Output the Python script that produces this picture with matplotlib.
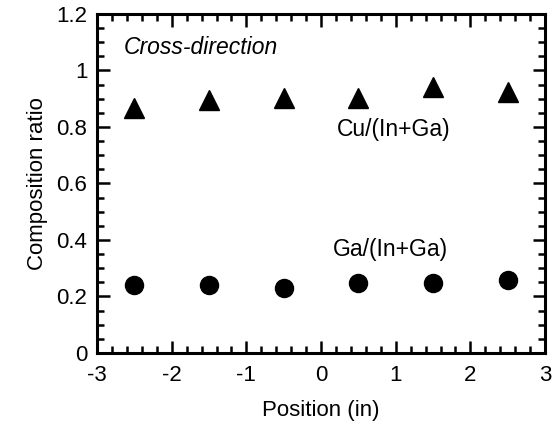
import matplotlib
matplotlib.use("Agg")
import matplotlib.pyplot as plt
from matplotlib.ticker import MultipleLocator

plt.rcParams['font.family'] = ['Liberation Sans', 'DejaVu Sans']

position = [-2.5, -1.5, -0.5, 0.5, 1.5, 2.5]
cu_ratio = [0.867, 0.895, 0.903, 0.902, 0.942, 0.924]
ga_ratio = [0.240, 0.240, 0.230, 0.249, 0.249, 0.258]

fig = plt.figure(figsize=(5.55, 4.23), dpi=100)
ax = fig.add_axes([0.175, 0.1655, 0.807, 0.8015])

ax.plot(position, cu_ratio, '^', color='black', markersize=14, linestyle='none')
ax.plot(position, ga_ratio, 'o', color='black', markersize=13, linestyle='none')

ax.set_xlim(-3, 3)
ax.set_ylim(0, 1.2)
ax.xaxis.set_major_locator(MultipleLocator(1))
ax.xaxis.set_minor_locator(MultipleLocator(0.2))
ax.yaxis.set_major_locator(MultipleLocator(0.2))
ax.yaxis.set_minor_locator(MultipleLocator(0.05))
ax.xaxis.set_major_formatter(plt.FuncFormatter(lambda v, p: '%g' % v))
ax.yaxis.set_major_formatter(plt.FuncFormatter(lambda v, p: '%g' % v))

ax.tick_params(which='both', direction='in', top=True, right=True, width=1.8, labelsize=16)
ax.tick_params(which='major', length=9, pad=7)
ax.tick_params(axis='x', which='major', pad=9)
ax.tick_params(which='minor', length=5)
for s in ax.spines.values():
    s.set_linewidth(2.2)

ax.set_xlabel('Position (in)', fontsize=16, labelpad=10)
ax.set_ylabel('Composition ratio', fontsize=16, labelpad=6)

ax.text(-2.64, 1.08, 'Cross-direction', style='italic', fontsize=16.5, va='center')
ax.text(0.97, 0.79, 'Cu/(In+Ga)', fontsize=16.5, ha='center', va='center')
ax.text(0.93, 0.365, 'Ga/(In+Ga)', fontsize=16.5, ha='center', va='center')

fig.savefig('out.png', dpi=100)
